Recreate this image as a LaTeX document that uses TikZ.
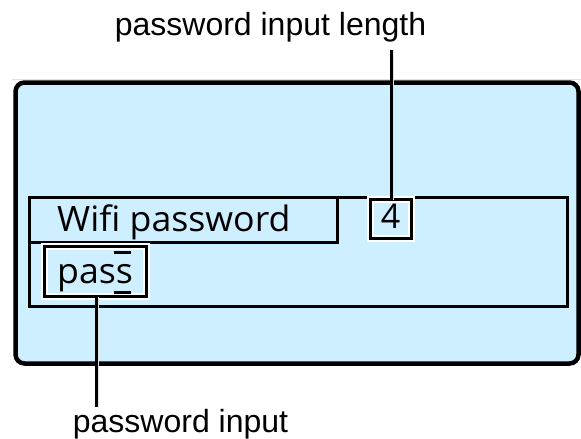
\documentclass[tikz,border=0pt]{standalone}
\usepackage{fontspec}
\setmainfont{Liberation Sans}
\newfontfamily\lcdfont[Ligatures=NoCommon]{Open Sans}
\definecolor{screenblue}{RGB}{206,239,255}
\definecolor{haloGray}{RGB}{225,225,225}
\tikzset{
  lbl/.style={font=\fontsize{32}{38}\selectfont, inner sep=0pt, anchor=base},
  lcd/.style={font=\fontsize{35}{42}\selectfont\lcdfont, inner sep=0pt, anchor=base west},
  framebox/.style={draw=black, line width=3pt},
  halo/.style={draw=white, line width=7pt},
  leaderhalo/.style={draw=haloGray, line width=4.5pt},
  leader/.style={draw=black, line width=3pt},
  cursorbar/.style={draw=black, line width=3pt}
}
\begin{document}
\begin{tikzpicture}[x=1pt,y=-1pt]
\useasboundingbox (0,0) rectangle (581,439);
% faint frame line
\draw[haloGray, line width=1pt] (12,79.5) -- (581,79.5);
% outer screen
\draw[fill=screenblue, line width=4.5pt, rounded corners=9pt] (15.5,82.5) rectangle (578.5,363.5);
% inner panel and title box
\draw[framebox] (29,197) rectangle (567.5,306);
\draw[framebox] (29,197) rectangle (337,242.5);
% length box
\coordinate (lenNW) at (370.5,199.5);
\coordinate (lenSE) at (411.5,238.5);
\draw[halo] (lenNW) rectangle (lenSE);
\draw[framebox] (lenNW) rectangle (lenSE);
% pass box
\coordinate (passNW) at (44.5,246.5);
\coordinate (passSE) at (146.5,296.5);
\draw[halo] (passNW) rectangle (passSE);
\draw[framebox] (passNW) rectangle (passSE);
% texts on screen
\node[lcd] (title) at (57,231) {\scalebox{1.02}[1]{Wifi password}};
\node[lcd] (passtxt) at (57,283) {\scalebox{1.02}[1]{pass}};
\node[font=\fontsize{34}{40}\selectfont\lcdfont, inner sep=0pt, anchor=base] (four) at (390.5,228) {4};
% cursor bars
\draw[cursorbar] (114,252.5) -- (131,252.5);
\draw[cursorbar] (114,292) -- (131,292);
% labels
\node[lbl] (lenlabel) at (270.5,35) {password input length};
\node[lbl] (inlabel) at (180.5,432) {password input};
% leaders
\coordinate (topend) at (391,50);
\coordinate (lenTop) at (391,199.5);
\coordinate (botend) at (96,407);
\coordinate (passBot) at (96,296.5);
\draw[leaderhalo] ([xshift=1.2pt]topend) -- ([xshift=1.2pt]lenTop);
\draw[leader] (topend) -- (lenTop);
\draw[leaderhalo] ([xshift=1.2pt]passBot) -- ([xshift=1.2pt]botend);
\draw[leader] (passBot) -- (botend);
\end{tikzpicture}
\end{document}
